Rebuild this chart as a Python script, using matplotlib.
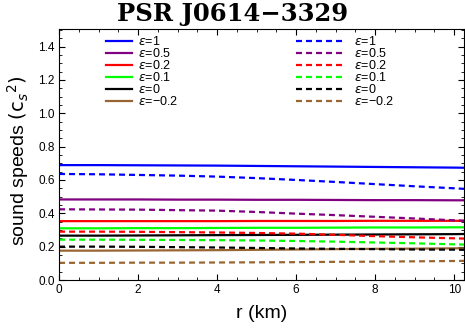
import matplotlib
matplotlib.use("Agg")
import matplotlib.pyplot as plt
from matplotlib.lines import Line2D
from matplotlib.ticker import MultipleLocator

r = [0, 1, 2, 3, 4, 5, 6, 7, 8, 9, 10, 10.3]

eps_labels = ["1", "0.5", "0.2", "0.1", "0", "\u22120.2"]
colors = ["#0000FF", "#800080", "#FF0000", "#00FF00", "#000000", "#996633"]

solid = [
    [0.689, 0.689, 0.688, 0.687, 0.686, 0.684, 0.682, 0.680, 0.678, 0.676, 0.674, 0.673],
    [0.483, 0.483, 0.483, 0.482, 0.482, 0.481, 0.481, 0.480, 0.479, 0.479, 0.478, 0.478],
    [0.353, 0.353, 0.353, 0.353, 0.353, 0.354, 0.354, 0.354, 0.355, 0.355, 0.355, 0.355],
    [0.310, 0.310, 0.311, 0.311, 0.312, 0.313, 0.313, 0.314, 0.315, 0.315, 0.316, 0.316],
    [0.266, 0.266, 0.267, 0.268, 0.269, 0.270, 0.271, 0.272, 0.273, 0.274, 0.275, 0.276],
    [0.176, 0.176, 0.177, 0.178, 0.179, 0.181, 0.183, 0.185, 0.187, 0.188, 0.190, 0.190],
]
dashed = [
    [0.636, 0.634, 0.630, 0.626, 0.620, 0.611, 0.600, 0.588, 0.575, 0.562, 0.550, 0.546],
    [0.424, 0.423, 0.422, 0.419, 0.416, 0.408, 0.398, 0.389, 0.379, 0.369, 0.358, 0.355],
    [0.290, 0.290, 0.289, 0.287, 0.285, 0.282, 0.278, 0.271, 0.263, 0.256, 0.250, 0.248],
    [0.242, 0.242, 0.241, 0.240, 0.239, 0.237, 0.234, 0.230, 0.225, 0.220, 0.214, 0.212],
    [0.200, 0.200, 0.199, 0.197, 0.195, 0.192, 0.189, 0.187, 0.185, 0.183, 0.182, 0.181],
    [0.103, 0.103, 0.104, 0.104, 0.105, 0.106, 0.107, 0.109, 0.110, 0.112, 0.114, 0.115],
]

plt.rcParams["font.family"] = ["Liberation Sans", "DejaVu Sans"]
plt.rcParams["lines.scale_dashes"] = False

fig = plt.figure(figsize=(4.65, 3.3), dpi=100)
ax = fig.add_axes([0.127, 0.1515, 0.871, 0.7605])

dash = (0, (4.3, 2.9))
for c, ys in zip(colors, solid):
    ax.plot(r, ys, color=c, lw=1.6, solid_capstyle="butt")
for c, ys in zip(colors, dashed):
    ax.plot(r, ys, color=c, lw=1.6, linestyle=dash)

ax.set_xlim(0, 10.25)
ax.set_ylim(0, 1.505)
ax.xaxis.set_major_locator(MultipleLocator(2))
ax.xaxis.set_minor_locator(MultipleLocator(0.5))
ax.yaxis.set_major_locator(MultipleLocator(0.2))
ax.yaxis.set_minor_locator(MultipleLocator(0.05))
ax.tick_params(which="both", direction="in", top=True, right=True, labelsize=8.5, pad=3)
ax.tick_params(which="major", length=4, width=0.8)
ax.tick_params(which="minor", length=2.2, width=0.6)
ax.yaxis.set_major_formatter(matplotlib.ticker.FormatStrFormatter("%.1f"))
for s in ax.spines.values():
    s.set_linewidth(0.8)

ax.set_xlabel("r (km)", fontsize=14, labelpad=6)
ax.set_ylabel("sound speeds $(\\mathrm{c}_s{}^2)$", fontsize=14, labelpad=4)
ax.yaxis.set_label_coords(-0.07, 0.474)
fig.suptitle("PSR J0614\u22123329", x=0.5, y=0.995, fontsize=17.5, fontweight="bold",
             family="DejaVu Serif")

h1 = [Line2D([], [], color=c, lw=1.6) for c in colors]
h2 = [Line2D([], [], color=c, lw=1.6, linestyle=dash) for c in colors]
labs = ["$\\epsilon$=" + e for e in eps_labels]
leg1 = ax.legend(h1, labs, loc="upper left", bbox_to_anchor=(0.115, 0.975), frameon=False,
                 fontsize=9, handlelength=2.1, handletextpad=0.45, labelspacing=-0.08,
                 borderpad=0, borderaxespad=0)
ax.add_artist(leg1)
ax.legend(h2, labs, loc="upper left", bbox_to_anchor=(0.585, 0.975), frameon=False,
          fontsize=9, handlelength=3.8, handletextpad=0.85, labelspacing=-0.08,
          borderpad=0, borderaxespad=0)

fig.savefig("out.png", dpi=100)
